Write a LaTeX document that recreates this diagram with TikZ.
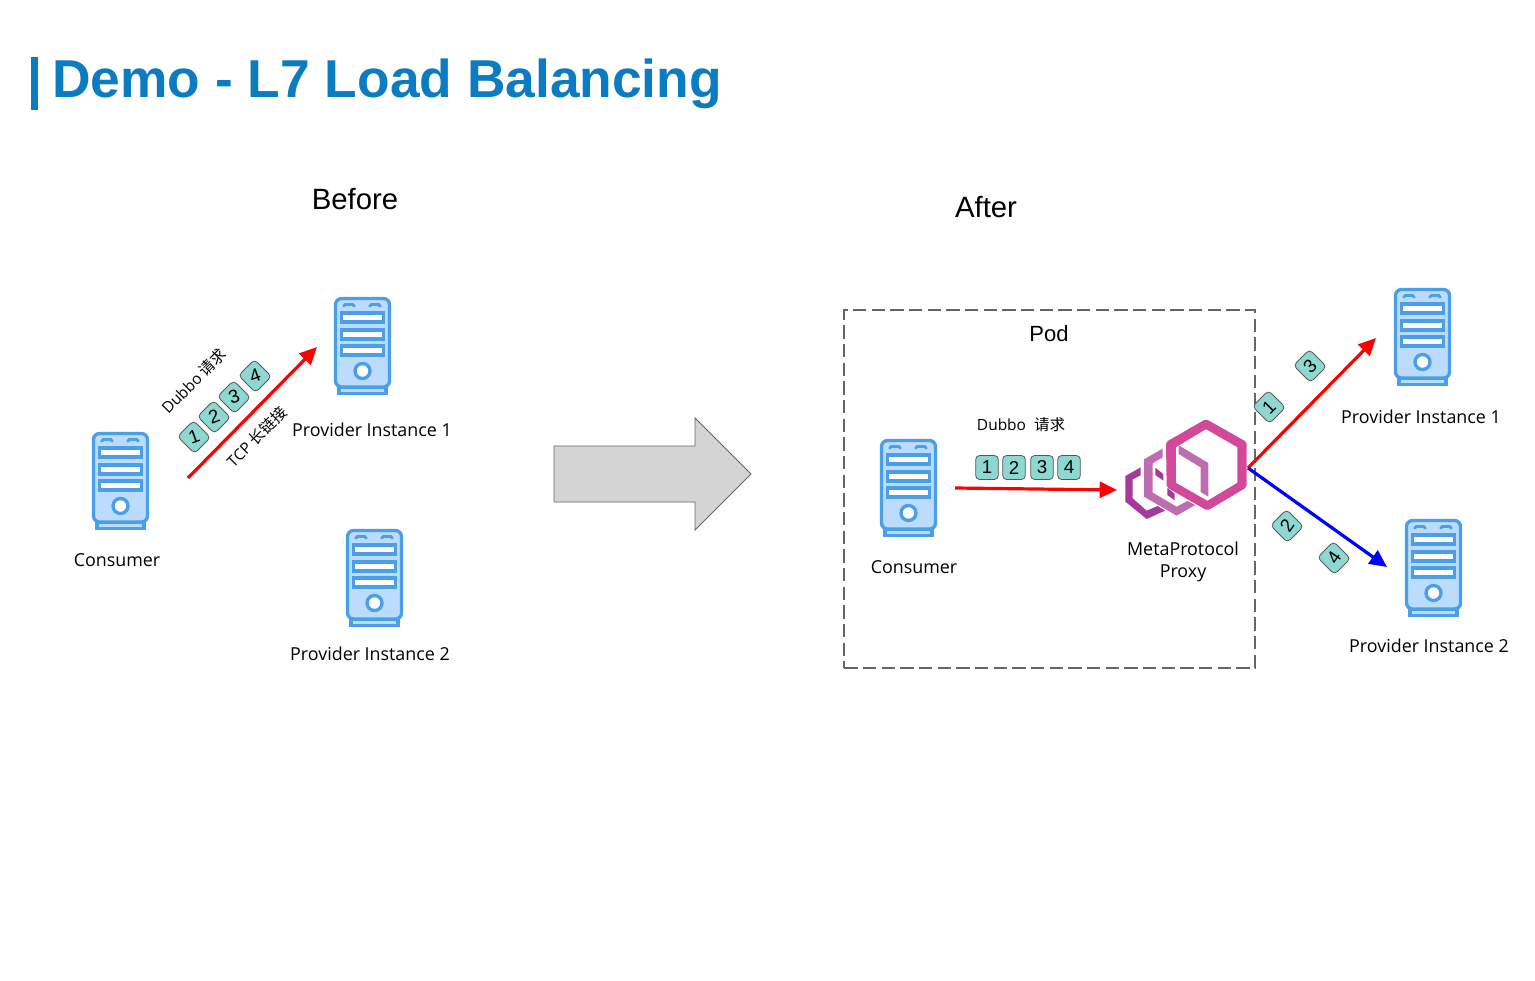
\documentclass[tikz,border=0pt]{standalone}
\usepackage{fontspec}
\usetikzlibrary{arrows.meta}
\setmainfont{Open Sans}
\newfontfamily\arialf{Liberation Sans}
\newfontfamily\cjk{Noto Sans CJK SC}
\definecolor{srvline}{HTML}{4A9FE8}
\definecolor{srvfill}{HTML}{BBDCFD}
\definecolor{badge}{HTML}{8DD8D0}
\definecolor{titleblue}{HTML}{0B7CC1}
\definecolor{envoyA}{HTML}{D2499A}
\definecolor{envoyB}{HTML}{BE6DB0}
\definecolor{envoyC}{HTML}{A43A9A}
\newcommand{\dg}[2]{\rotatebox[origin=c]{#1}{#2}}
\tikzset{
 x=0.75pt,y=-0.75pt,
 conn/.style={line width=2.4pt,-{Triangle[length=13pt,width=12pt]}},
 lbl/.style={font=\fontsize{13.4pt}{16.5pt}\selectfont,align=center,inner sep=0pt},
 small/.style={font=\fontsize{11.6pt}{13pt}\selectfont,inner sep=0pt},
 head/.style={font=\arialf\fontsize{22pt}{26pt}\selectfont,inner sep=0pt},
 bdg/.style={draw=black!65,fill=badge,rounded corners=3pt,line width=0.6pt,minimum width=17pt,minimum height=18pt,inner sep=0pt,font=\arialf\fontsize{14pt}{15pt}\selectfont},
 server/.pic={
  \draw[srvline,line width=2.5pt,fill=srvfill] (5,90) rectangle (52,96.5);
  \draw[srvline,line width=2.5pt,fill=srvfill,rounded corners=4.5pt] (1.5,1.5) rectangle (55.5,90);
  \foreach \yy in {16,33,49}{\draw[srvline,line width=2.5pt,fill=white] (7.5,\yy) rectangle (49.5,\yy+9);}
  \draw[srvline,line width=2pt,rounded corners=1pt] (10,10) -- (10,7.5) -- (20,7.5) -- (20,10);
  \draw[srvline,line width=2pt,rounded corners=1pt] (36,10) -- (36,7.5) -- (46,7.5) -- (46,10);
  \draw[srvline,line width=2.5pt,fill=white] (28.5,74) circle (7.5);
 }
}
\begin{document}
\begin{tikzpicture}
\useasboundingbox (0,0) rectangle (1535,981);
\fill[white] (0,0) rectangle (1535,981);
\fill[titleblue] (31,57) rectangle (38,110);
\node[anchor=base west,inner sep=0pt,text=titleblue,font=\arialf\bfseries\fontsize{40pt}{48pt}\selectfont] (title) at (52,98) {Demo - L7 Load Balancing};
\node[head] (before) at (355,199) {Before};
\node[head] (after) at (986,207) {After};
% before
\pic at (92,432) {server};
\pic at (334,297) {server};
\pic at (346,529) {server};
\node[lbl] (c1) at (117,560) {Consumer};
\node[lbl] (p1) at (372,430) {Provider Instance 1};
\node[lbl] (p2) at (370,654) {Provider Instance 2};
\coordinate (a1s) at (188,478);
\coordinate (a1e) at (317,347);
\draw[conn,red] (a1s) -- (a1e);
\node[bdg,rotate=45] (b1) at (194,437) {\dg{-25}{1}};
\node[bdg,rotate=45] (b2) at (214,417) {\dg{-25}{2}};
\node[bdg,rotate=45] (b3) at (234,397) {\dg{-25}{3}};
\node[bdg,rotate=45] (b4) at (255,376) {\dg{-25}{4}};
\node[small,rotate=45] (t1) at (194,381) {Dubbo {\cjk 请求}};
\node[small,rotate=45] (t2) at (257,437) {TCP {\cjk 长链接}};
% arrow
\draw[fill=black!17,draw=black!60,line width=0.6pt] (554,446) -- (695,446) -- (695,418) -- (751,474) -- (695,530) -- (695,502) -- (554,502) -- cycle;
% pod
\node[draw=black!60,dashed,line width=1.5pt,dash pattern=on 10pt off 4pt,minimum width=308pt,minimum height=268.5pt,inner sep=0pt] (pod) at (1049.5,489) {};
\node[font=\arialf\fontsize{16.5pt}{20pt}\selectfont,inner sep=0pt] (podl) at (1049,334) {Pod};
\pic at (880,439) {server};
\node[lbl] (c2) at (914,567) {Consumer};
\node[small] (t3) at (1021,425) {Dubbo\ \ {\cjk 请求}};
\node[bdg] (c1b) at (987,467.5) {1};
\node[bdg] (c2b) at (1014,467.5) {2};
\node[bdg] (c3b) at (1042,467.5) {3};
\node[bdg] (c4b) at (1069,467.5) {4};
\coordinate (a2s) at (955,488);
\coordinate (a2e) at (1117,490);
\draw[conn,red] (a2s) -- (a2e);
% envoy
\begin{scope}[shift={(1110,400)},x=0.25pt,y=-0.25pt]
\fill[envoyC] (92,202) -- (46,228) -- (46,305) -- (110,357) -- (165,332) -- (143,318) -- (110,332) -- (68,295) -- (68,238) -- (92,226) -- cycle;
\fill[envoyB] (158,146) -- (102,178) -- (102,290) -- (200,347) -- (256,315) -- (232,303) -- (200,320) -- (128,278) -- (128,190) -- (158,172) -- cycle;
\fill[envoyC] (136,203) -- (160,222) -- (160,242) -- (136,225) -- cycle;
\fill[envoyC] (172,264) -- (194,281) -- (194,301) -- (172,285) -- cycle;
\fill[envoyA,rounded corners=1.5pt] (288,57) -- (410,126) -- (410,262) -- (292,332) -- (170,262) -- (168,126) -- cycle;
\fill[white] (288,88) -- (382,142) -- (382,248) -- (292,302) -- (198,248) -- (198,142) -- cycle;
\fill[envoyB] (206,136) -- (295,189) -- (295,290) -- (272,276) -- (272,202) -- (206,162) -- cycle;
\end{scope}
\node[lbl] (mp) at (1183,562) {MetaProtocol\\Proxy};
\coordinate (hub) at (1248,468);
\pic at (1394,288) {server};
\pic at (1405,519) {server};
\node[lbl] (p3) at (1421,417) {Provider Instance 1};
\node[lbl] (p4) at (1429,646) {Provider Instance 2};
\coordinate (a3e) at (1376,338);
\coordinate (a4e) at (1387,567);
\draw[conn,red] (hub) -- (a3e);
\draw[conn,blue] (hub) -- (a4e);
\node[bdg,rotate=45] (r1) at (1269,407) {1};
\node[bdg,rotate=45] (r3) at (1310,366) {3};
\node[bdg,rotate=45] (r2) at (1287,526) {\dg{10}{2}};
\node[bdg,rotate=45] (r4) at (1334,558) {\dg{10}{4}};
\end{tikzpicture}
\end{document}
